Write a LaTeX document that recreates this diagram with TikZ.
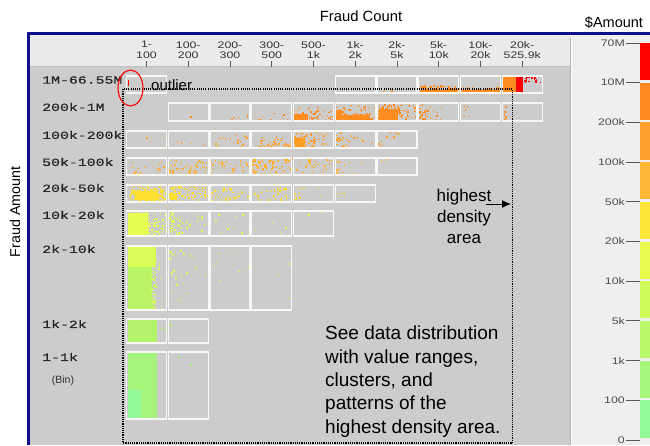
\documentclass[tikz,border=0pt]{standalone}
\usepackage{fontspec}
\setmainfont{Liberation Sans}
\newfontfamily\monofnt[FakeStretch=1.35,FakeBold=0.6]{Liberation Mono}
\newfontfamily\tickfnt[FakeStretch=1.3]{Liberation Sans}
\usetikzlibrary{arrows.meta}
\definecolor{navy}{HTML}{10108A}
\definecolor{hdrgray}{HTML}{EBEBEB}
\definecolor{maingray}{HTML}{CCCCCC}
\definecolor{rpgray}{HTML}{EFEFEF}
\definecolor{cR0}{HTML}{FF8C1E}
\definecolor{cR2}{HTML}{FF9E22}
\definecolor{cR3}{HTML}{FFAE2E}
\definecolor{cR4}{HTML}{FFE034}
\definecolor{cR5}{HTML}{E6FC50}
\definecolor{cR6a}{HTML}{D8FC58}
\definecolor{cR6b}{HTML}{BCF468}
\definecolor{cR7}{HTML}{B4F46C}
\definecolor{cR8a}{HTML}{A4F47C}
\definecolor{cR8b}{HTML}{94F898}
\definecolor{lg0}{HTML}{FF0000}
\definecolor{lg1}{HTML}{FF8A24}
\definecolor{lg2}{HTML}{FFA02A}
\definecolor{lg3}{HTML}{FFB634}
\definecolor{lg4}{HTML}{FFE63C}
\definecolor{lg5}{HTML}{E8FA4C}
\definecolor{lg6}{HTML}{D0FA58}
\definecolor{lg7}{HTML}{B8F86A}
\definecolor{lg8}{HTML}{A6F87C}
\definecolor{lg9}{HTML}{94FA98}
% uniform scatter
\newcommand\scatU[6]{\foreach \k in {1,...,#5}{\fill[#6] ({#1+(#3)*rnd},{#2+(#4)*rnd}) rectangle ++(1.5,1.5);}}
% bottom weighted
\newcommand\scatB[6]{\foreach \k in {1,...,#5}{\fill[#6] ({#1+(#3)*rnd},{#2+(#4)*(1-rnd*rnd)}) rectangle ++(1.5,1.5);}}
% left weighted
\newcommand\scatL[6]{\foreach \k in {1,...,#5}{\fill[#6] ({#1+(#3)*rnd*rnd},{#2+(#4)*rnd}) rectangle ++(1.5,1.5);}}
\newcommand\cellrow[4]{\foreach \c in {#1,...,#2}{\draw[cellbox] ({126.5+41.75*\c},#3) rectangle ++(40,#4);}}
\tikzset{
  cellbox/.style={draw=white!94!gray, line width=1.3pt},
  rowlab/.style={anchor=west, inner sep=0, font=\monofnt\fontsize{11}{11}\selectfont, text=black!85},
  collab/.style={align=center, inner sep=0, font=\tickfnt\fontsize{9.5}{10.5}\selectfont, text=black!80},
  legend lab/.style={anchor=east, inner sep=0, font=\tickfnt\fontsize{9.5}{10}\selectfont, text=black!70},
  tickline/.style={draw=black!65, line width=0.9pt},
  note/.style={inner sep=0, text=black},
}
\begin{document}
\begin{tikzpicture}[x=1pt,y=-1pt]
\useasboundingbox (0,0) rectangle (650,445);
\pgfmathsetseed{7}
% panels
\fill[white] (0,0) rectangle (650,445);
\fill[hdrgray] (30,35) rectangle (570,67);
\fill[maingray] (30,67) rectangle (570,445);
\fill[rpgray] (571,35) rectangle (650,445);
\draw[black!30, line width=0.8pt] (570.4,37) -- (570.4,445);
\draw[white, line width=0.8pt] (571.6,37) -- (571.6,445);
\draw[black!25, line width=0.8pt] (30,66.6) -- (570,66.6);
% blue frame
\fill[navy] (27,32) rectangle (650,35);
\fill[navy] (27,32) rectangle (30,445);
% titles
\node[note, font=\fontsize{14.8}{15}\selectfont] (title) at (361,16) {Fraud Count};
\node[note, font=\fontsize{14.5}{15}\selectfont] (amt) at (614,23) {\$Amount};
\node[note, font=\fontsize{14.3}{15}\selectfont, rotate=90] (ylab) at (15,212) {Fraud Amount};
% column labels and ticks
\foreach \i/\a/\b in {0/1-/100,1/100-/200,2/200-/300,3/300-/500,4/500-/1k,5/1k-/2k,6/2k-/5k,7/5k-/10k,8/10k-/20k,9/20k-/525.9k}{
  \node[collab] (c\i) at ({146.5+41.75*\i},50) {\a\\\b};
  \draw[tickline] ({146.5+41.75*\i},61) -- ({146.5+41.75*\i},67);
}
% ---------- scatter data ----------
% row 0
\fill[red] (127.6,79.5) rectangle (129.4,84);
\fill[red] (128.2,84) rectangle (129,85.5);
\scatU{377}{90}{40}{2}{4}{cR0}
\fill[cR0] (420,89.5) rectangle (459,93);
\scatU{420}{85}{39}{4}{50}{cR0}
\fill[cR0] (461,90) rectangle (500,93);
\scatU{461}{87}{39}{3}{35}{cR0}
\fill[cR0] (503,76) rectangle (516,93);
\fill[red] (516,76) rectangle (523,93);
\scatU{523}{76}{18}{6}{22}{red}
% row 1 (200k-1M): y 103-121
\fill[cR0] (190,116) rectangle ++(1.5,1.5);
\scatB{228}{112}{22}{8}{5}{cR0}
\scatB{252}{108}{40}{12}{18}{cR0}
\scatB{293}{104}{40}{16}{55}{cR0}
\fill[cR0] (294,114) rectangle (308,120);
\scatB{335}{104}{40}{16}{110}{cR0}
\fill[cR0] (336,110) rectangle (342,120);
\fill[cR0] (342,115) rectangle (370,120);
\fill[cR0] (379,109) rectangle (398,120);
\scatU{377}{104}{26}{16}{70}{cR0}
\scatU{377}{104}{40}{16}{50}{cR0}
\scatL{419}{104}{30}{16}{35}{cR0}
\scatU{461}{105}{8}{15}{6}{cR0}
\scatU{503}{104}{2.5}{16}{8}{cR0}
% row 2 (100k-200k): y 131-148
\scatU{130}{135}{36}{12}{4}{cR2}
\scatU{170}{135}{36}{12}{5}{cR2}
\scatU{212}{132}{36}{15}{18}{cR2}
\scatB{253}{132}{38}{15}{50}{cR2}
\fill[cR2] (295,138) rectangle (305,147);
\scatL{294}{132}{38}{15}{40}{cR2}
\scatU{294}{132}{38}{15}{30}{cR2}
\scatL{336}{132}{38}{15}{30}{cR2}
\scatU{378}{132}{38}{15}{9}{cR2}
% row 3 (50k-100k): y 158-175
\scatB{130}{160}{36}{14}{18}{cR3}
\scatU{168}{160}{40}{14}{45}{cR3}
\scatU{210}{160}{40}{14}{38}{cR3}
\scatU{252}{158}{40}{16}{55}{cR3}
\scatL{252}{158}{20}{16}{25}{cR3}
\scatU{294}{159}{38}{15}{30}{cR3}
\scatL{336}{160}{30}{14}{14}{cR3}
\scatU{378}{158}{10}{4}{3}{cR3}
% row 4 (20k-50k): y 185-202
\fill[cR4] (135,191) rectangle (158,200);
\scatU{128}{186}{38}{15}{90}{cR4}
\scatU{130}{187}{32}{13}{70}{cR4}
\fill[cR4] (170,193) rectangle (177,200);
\scatU{168}{186}{40}{15}{75}{cR4}
\scatU{210}{186}{40}{15}{35}{cR4}
\scatU{252}{186}{40}{15}{35}{cR4}
\scatL{294}{186}{30}{15}{12}{cR4}
\scatL{336}{186}{20}{10}{5}{cR4}
% row 5 (10k-20k): y 211-236
\fill[cR5] (127.5,213) rectangle (148,235.5);
\scatU{127.5}{211.5}{24}{24}{40}{cR5}
\scatU{146}{212}{20}{23}{50}{cR5}
\scatL{169}{212}{40}{23}{50}{cR5}
\scatU{212}{213}{38}{22}{10}{cR5}
\scatU{254}{220}{38}{15}{4}{cR5}
\scatU{300}{211}{30}{5}{2}{cR5}
% row 6 (2k-10k): y 246-310
\fill[cR6a] (127.5,247) rectangle (156,267);
\fill[cR6b] (127.5,267) rectangle (152,309.5);
\scatU{151}{267}{4}{42}{25}{cR6b}
\scatL{150}{247}{16}{62}{35}{cR6a}
\scatL{169}{250}{40}{50}{28}{cR6a}
\scatU{212}{250}{38}{40}{9}{cR6a}
\scatU{254}{250}{38}{55}{3}{cR6a}
% row 7 (1k-2k): y 319-343
\fill[cR7] (127.5,320) rectangle (157,342.5);
\scatU{157}{322}{8}{12}{3}{cR7}
\fill[cR7] (170,324) rectangle ++(1.5,1.5);
% row 8 (1-1k): y 352-419
\fill[cR8a] (127.5,353) rectangle (157,418.5);
\fill[cR8b] (127.5,390) rectangle (142,418.5);
\fill[cR8a] (142,405) rectangle (148,418.5);
\fill[cR8a] (178,356) rectangle ++(1.5,1.5);
\fill[cR8a] (190,364) rectangle ++(1.5,1.5);
% ---------- cell boxes ----------
\cellrow{0}{0}{76}{17}
\cellrow{5}{9}{76}{17}
\cellrow{1}{9}{103}{18}
\cellrow{0}{6}{131}{17}
\cellrow{0}{6}{158}{17}
\cellrow{0}{5}{185}{17}
\cellrow{0}{4}{211}{25}
\cellrow{0}{3}{246}{64}
\cellrow{0}{1}{319}{24}
\cellrow{0}{1}{352}{67}
% row labels
\node[rowlab] (r0) at (42,80) {1M-66.55M};
\node[rowlab] (r1) at (42,107) {200k-1M};
\node[rowlab] (r2) at (42,135) {100k-200k};
\node[rowlab] (r3) at (42,162) {50k-100k};
\node[rowlab] (r4) at (42,188) {20k-50k};
\node[rowlab] (r5) at (42,215) {10k-20k};
\node[rowlab] (r6) at (42,249) {2k-10k};
\node[rowlab] (r7) at (42,324) {1k-2k};
\node[rowlab] (r8) at (42,357) {1-1k};
\node[note, font=\fontsize{10.5}{11}\selectfont, text=black!80] (bin) at (63,381) {(Bin)};
% dotted region
\draw[black, line width=1.1pt, dash pattern=on 1.1pt off 1.1pt] (123,89) rectangle (512.5,443);
% outlier
\draw[red, line width=1.1pt] (130.5,88) ellipse [x radius=12.5, y radius=18];
\node[note, anchor=west, font=\fontsize{15}{15}\selectfont] (outl) at (151,85) {outlier};
% highest density area
\node[note, align=center, font=\fontsize{17}{21}\selectfont] (hda) at (464,216) {highest\\density\\area};
\coordinate (arS) at (486,204);
\coordinate (arE) at (511,204);
\draw[line width=1pt, -{Latex[length=9pt,width=8pt]}] (arS) -- (arE);
% note
\node[note, anchor=west, align=left, font=\fontsize{19}{23.3}\selectfont] (see) at (325,381.5) {See data distribution\\with value ranges,\\clusters, and\\patterns of the\\highest density area.};
% legend
\foreach \i/\t in {0/70M,1/10M,2/200k,3/100k,4/50k,5/20k,6/10k,7/5k,8/1k,9/100,10/0}{
  \node[legend lab] (l\i) at ({625},{43+39.7*\i}) {\t};
  \draw[tickline] (626,{43+39.7*\i}) -- (640,{43+39.7*\i});
}
\foreach \i in {0,...,9}{
  \fill[lg\i] (640,{43+39.7*\i}) rectangle (650,{43+39.7*(\i+1)-2.5});
}
\end{tikzpicture}
\end{document}
